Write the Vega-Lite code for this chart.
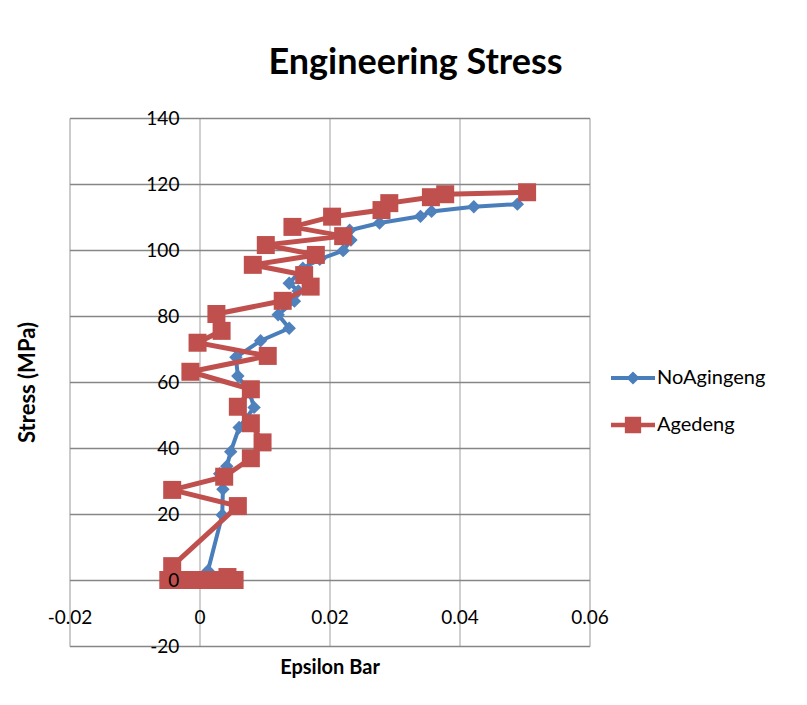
{
  "$schema": "https://vega.github.io/schema/vega-lite/v6.json",
  "autosize": {"type": "none"},
  "padding": {"left": 69.5, "top": 118, "right": 217.5, "bottom": 59},
  "width": 520,
  "height": 528,
  "background": "white",
  "title": {
    "text": "Engineering Stress",
    "font": "Lato",
    "fontSize": 36,
    "fontWeight": "bold",
    "color": "black",
    "anchor": "middle",
    "frame": "group",
    "dx": 86,
    "baseline": "alphabetic",
    "offset": -1
  },
  "data": {
    "values": [
      {"series": "NoAgingeng", "i": 1, "eps": 0.0, "stress": 0.0},
      {"series": "NoAgingeng", "i": 2, "eps": 0.0013, "stress": 2.8},
      {"series": "NoAgingeng", "i": 3, "eps": 0.0035, "stress": 19.7},
      {"series": "NoAgingeng", "i": 4, "eps": 0.0036, "stress": 27.5},
      {"series": "NoAgingeng", "i": 5, "eps": 0.0031, "stress": 32.2},
      {"series": "NoAgingeng", "i": 6, "eps": 0.0042, "stress": 34.5},
      {"series": "NoAgingeng", "i": 7, "eps": 0.0048, "stress": 38.9},
      {"series": "NoAgingeng", "i": 8, "eps": 0.0061, "stress": 46.2},
      {"series": "NoAgingeng", "i": 9, "eps": 0.0084, "stress": 52.3},
      {"series": "NoAgingeng", "i": 10, "eps": 0.0077, "stress": 56.8},
      {"series": "NoAgingeng", "i": 11, "eps": 0.0059, "stress": 61.8},
      {"series": "NoAgingeng", "i": 12, "eps": 0.0056, "stress": 67.5},
      {"series": "NoAgingeng", "i": 13, "eps": 0.0094, "stress": 72.5},
      {"series": "NoAgingeng", "i": 14, "eps": 0.0138, "stress": 76.3},
      {"series": "NoAgingeng", "i": 15, "eps": 0.0121, "stress": 80.4},
      {"series": "NoAgingeng", "i": 16, "eps": 0.0146, "stress": 84.5},
      {"series": "NoAgingeng", "i": 17, "eps": 0.0152, "stress": 87.6},
      {"series": "NoAgingeng", "i": 18, "eps": 0.0138, "stress": 89.9},
      {"series": "NoAgingeng", "i": 19, "eps": 0.0159, "stress": 94.5},
      {"series": "NoAgingeng", "i": 20, "eps": 0.0185, "stress": 97.2},
      {"series": "NoAgingeng", "i": 21, "eps": 0.0221, "stress": 99.8},
      {"series": "NoAgingeng", "i": 22, "eps": 0.0233, "stress": 103.0},
      {"series": "NoAgingeng", "i": 23, "eps": 0.0231, "stress": 106.0},
      {"series": "NoAgingeng", "i": 24, "eps": 0.0277, "stress": 108.2},
      {"series": "NoAgingeng", "i": 25, "eps": 0.034, "stress": 110.2},
      {"series": "NoAgingeng", "i": 26, "eps": 0.0357, "stress": 111.7},
      {"series": "NoAgingeng", "i": 27, "eps": 0.0422, "stress": 113.1},
      {"series": "NoAgingeng", "i": 28, "eps": 0.0489, "stress": 113.9},
      {"series": "Agedeng", "i": 1, "eps": 0.0054, "stress": 0.0},
      {"series": "Agedeng", "i": 2, "eps": 0.0043, "stress": 0.9},
      {"series": "Agedeng", "i": 3, "eps": 0.0031, "stress": 0.0},
      {"series": "Agedeng", "i": 4, "eps": 0.0018, "stress": 0.0},
      {"series": "Agedeng", "i": 5, "eps": 0.0005, "stress": 0.0},
      {"series": "Agedeng", "i": 6, "eps": -0.0008, "stress": 0.0},
      {"series": "Agedeng", "i": 7, "eps": -0.0021, "stress": 0.0},
      {"series": "Agedeng", "i": 8, "eps": -0.0035, "stress": 0.0},
      {"series": "Agedeng", "i": 9, "eps": -0.0048, "stress": 0.0},
      {"series": "Agedeng", "i": 10, "eps": -0.0042, "stress": 4.2},
      {"series": "Agedeng", "i": 11, "eps": 0.0059, "stress": 22.4},
      {"series": "Agedeng", "i": 12, "eps": -0.0042, "stress": 27.3},
      {"series": "Agedeng", "i": 13, "eps": 0.0038, "stress": 31.3},
      {"series": "Agedeng", "i": 14, "eps": 0.0079, "stress": 36.9},
      {"series": "Agedeng", "i": 15, "eps": 0.0097, "stress": 41.7},
      {"series": "Agedeng", "i": 16, "eps": 0.0079, "stress": 47.5},
      {"series": "Agedeng", "i": 17, "eps": 0.0059, "stress": 52.5},
      {"series": "Agedeng", "i": 18, "eps": 0.0079, "stress": 57.8},
      {"series": "Agedeng", "i": 19, "eps": -0.0014, "stress": 63.1},
      {"series": "Agedeng", "i": 20, "eps": 0.0105, "stress": 67.9},
      {"series": "Agedeng", "i": 21, "eps": -0.0003, "stress": 71.9},
      {"series": "Agedeng", "i": 22, "eps": 0.0034, "stress": 75.5},
      {"series": "Agedeng", "i": 23, "eps": 0.0026, "stress": 80.6},
      {"series": "Agedeng", "i": 24, "eps": 0.0128, "stress": 84.6},
      {"series": "Agedeng", "i": 25, "eps": 0.0171, "stress": 88.9},
      {"series": "Agedeng", "i": 26, "eps": 0.0161, "stress": 92.4},
      {"series": "Agedeng", "i": 27, "eps": 0.0082, "stress": 95.5},
      {"series": "Agedeng", "i": 28, "eps": 0.0179, "stress": 98.5},
      {"series": "Agedeng", "i": 29, "eps": 0.0102, "stress": 101.5},
      {"series": "Agedeng", "i": 30, "eps": 0.0221, "stress": 104.2},
      {"series": "Agedeng", "i": 31, "eps": 0.0143, "stress": 107.0},
      {"series": "Agedeng", "i": 32, "eps": 0.0204, "stress": 110.1},
      {"series": "Agedeng", "i": 33, "eps": 0.028, "stress": 112.1},
      {"series": "Agedeng", "i": 34, "eps": 0.0292, "stress": 114.2},
      {"series": "Agedeng", "i": 35, "eps": 0.0356, "stress": 116.0},
      {"series": "Agedeng", "i": 36, "eps": 0.0378, "stress": 116.9},
      {"series": "Agedeng", "i": 37, "eps": 0.0504, "stress": 117.5}
    ]
  },
  "resolve": {"axis": {"x": "independent", "y": "independent"}},
  "layer": [
    {
      "transform": [{"filter": "datum.series === 'NoAgingeng'"}],
      "mark": {"type": "line", "color": "#4A7EBB", "strokeWidth": 4},
      "encoding": {
        "x": {
          "field": "eps", "type": "quantitative",
          "scale": {"domain": [-0.02, 0.06], "nice": false, "zero": false},
          "axis": {
            "orient": "bottom", "values": [-0.02, 0, 0.02, 0.04, 0.06],
            "grid": true, "gridColor": "#BFBFBF", "gridWidth": 1.5,
            "labels": false, "ticks": false, "domain": false, "title": null, "zindex": 0
          }
        },
        "y": {
          "field": "stress", "type": "quantitative",
          "scale": {"domain": [-20, 140], "nice": false, "zero": false},
          "axis": {
            "orient": "left", "values": [-20, 0, 20, 40, 60, 80, 100, 120, 140],
            "grid": true, "gridColor": "#868686", "gridWidth": 1.5,
            "labels": false, "ticks": false, "domain": false, "title": null, "zindex": 0
          }
        },
        "order": {"field": "i", "type": "quantitative"}
      }
    },
    {
      "transform": [{"filter": "datum.series === 'NoAgingeng'"}],
      "mark": {"type": "point", "shape": "diamond", "filled": true, "size": 180, "color": "#4F81BD", "opacity": 1},
      "encoding": {
        "x": {"field": "eps", "type": "quantitative", "axis": null},
        "y": {"field": "stress", "type": "quantitative", "axis": null}
      }
    },
    {
      "transform": [{"filter": "datum.series === 'Agedeng'"}],
      "mark": {"type": "line", "color": "#C0504D", "strokeWidth": 5},
      "encoding": {
        "x": {"field": "eps", "type": "quantitative", "axis": null},
        "y": {"field": "stress", "type": "quantitative", "axis": null},
        "order": {"field": "i", "type": "quantitative"}
      }
    },
    {
      "transform": [{"filter": "datum.series === 'Agedeng'"}],
      "mark": {"type": "point", "shape": "square", "filled": true, "size": 324, "color": "#C0504D", "opacity": 1},
      "encoding": {
        "x": {
          "field": "eps", "type": "quantitative",
          "axis": {
            "orient": "bottom", "offset": -66, "values": [-0.02, 0, 0.02, 0.04, 0.06],
            "labelExpr": "'' + datum.value",
            "grid": false, "ticks": false, "tickSize": 0, "domain": false,
            "labelPadding": 28, "labelFlush": false, "labelOverlap": false,
            "labelFont": "Lato", "labelFontSize": 19, "labelColor": "black",
            "title": "Epsilon Bar", "titleFont": "Lato", "titleFontSize": 20, "titleFontWeight": "bold",
            "titleColor": "black", "titleX": 260, "titleY": 87, "titleBaseline": "middle", "titleAlign": "center",
            "zindex": 1
          }
        },
        "y": {
          "field": "stress", "type": "quantitative",
          "axis": {
            "orient": "left", "offset": -129.4, "values": [-20, 0, 20, 40, 60, 80, 100, 120, 140],
            "labelExpr": "'' + datum.value",
            "grid": false, "ticks": false, "tickSize": 0, "domain": false,
            "labelPadding": 20, "labelFlush": false, "labelOverlap": false,
            "labelFont": "Lato", "labelFontSize": 19, "labelColor": "black", "labelBaseline": "middle",
            "title": "Stress (MPa)", "titleFont": "Lato", "titleFontSize": 22, "titleFontWeight": "bold",
            "titleColor": "black", "titleX": -171, "titleY": 264, "titleAngle": -90,
            "titleBaseline": "middle", "titleAlign": "center",
            "zindex": 1
          }
        }
      }
    },
    {
      "transform": [{"filter": "false"}],
      "mark": {"type": "point", "filled": true, "opacity": 1},
      "encoding": {
        "color": {
          "field": "series", "type": "nominal",
          "scale": {"domain": ["NoAgingeng", "Agedeng"], "range": ["#4A7EBB", "#C0504D"]},
          "legend": {
            "orient": "none", "legendX": 541.5, "legendY": 238, "title": null,
            "labelFont": "Lato", "labelFontSize": 20, "labelColor": "black", "labelOffset": 2,
            "symbolSize": 1936, "symbolStrokeWidth": 0, "symbolOpacity": 1,
            "rowPadding": 15, "padding": 0
          }
        },
        "shape": {
          "field": "series", "type": "nominal",
          "scale": {
            "domain": ["NoAgingeng", "Agedeng"],
            "range": [
              "M-1,-0.09H1V0.09H-1Z M0,-0.29L0.3,0L0,0.29L-0.3,0Z",
              "M-1,-0.1H1V0.1H-1Z M-0.37,-0.37H0.37V0.37H-0.37Z"
            ]
          },
          "legend": {
            "orient": "none", "legendX": 541.5, "legendY": 238, "title": null,
            "labelFont": "Lato", "labelFontSize": 20, "labelColor": "black", "labelOffset": 2,
            "symbolSize": 1936, "symbolStrokeWidth": 0, "symbolOpacity": 1,
            "rowPadding": 15, "padding": 0
          }
        }
      }
    }
  ]
}
